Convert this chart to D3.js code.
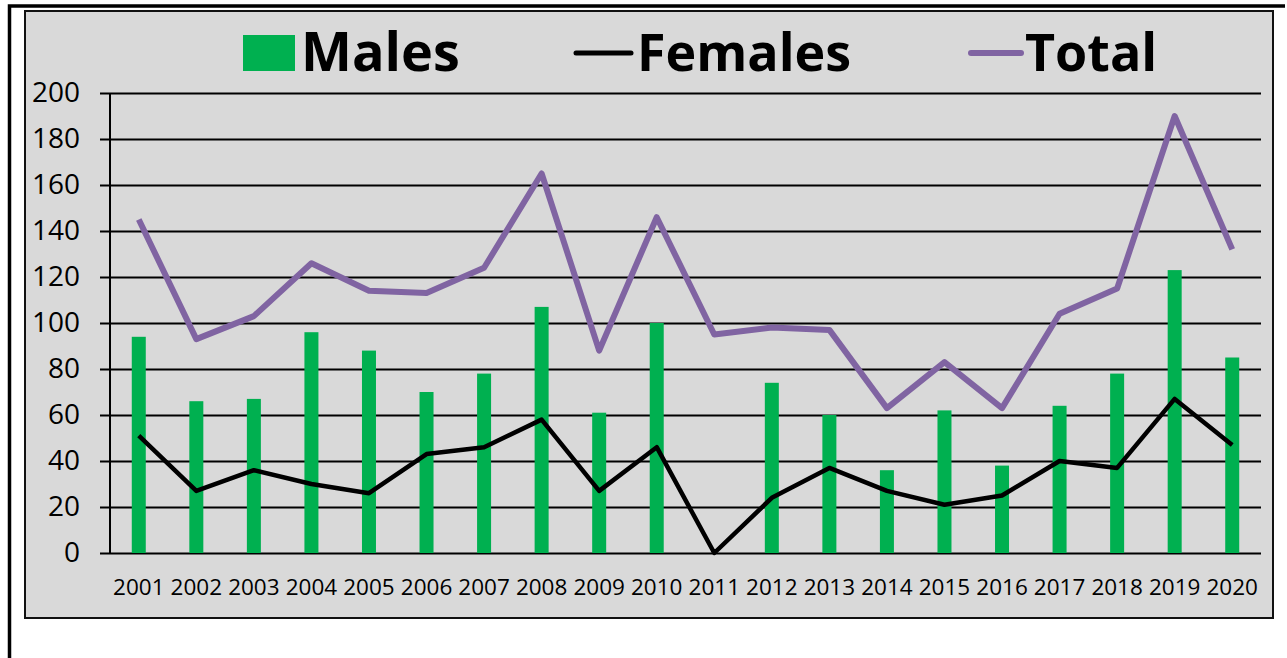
<!DOCTYPE html>
<html lang='en'>
  <head>
    <meta charset='utf-8'>
    <script src='https://cdnjs.cloudflare.com/ajax/libs/d3/7.8.5/d3.min.js'></script>
    <style>
      body { margin: 0; background: #fff; }
      svg { display: block; font-family: 'Open Sans', sans-serif; }
    </style>
  </head>
  <body>
    <div id='chart'></div>
    <script type='text/javascript'>

      // data
      var years = ['2001', '2002', '2003', '2004', '2005', '2006', '2007', '2008', '2009', '2010',
                   '2011', '2012', '2013', '2014', '2015', '2016', '2017', '2018', '2019', '2020'];
      var males = [94, 66, 67, 96, 88, 70, 78, 107, 61, 100, 0, 74, 60, 36, 62, 38, 64, 78, 123, 85];
      var females = [51, 27, 36, 30, 26, 43, 46, 58, 27, 46, 0, 24, 37, 27, 21, 25, 40, 37, 67, 47];
      var total = [145, 93, 103, 126, 114, 113, 124, 165, 88, 146, 95, 98, 97, 63, 83, 63, 104, 115, 190, 132];
      var yTicks = [0, 20, 40, 60, 80, 100, 120, 140, 160, 180, 200];

      var svgWidth = 1287;
      var svgHeight = 658;

      var plotLeft = 110;
      var plotRight = 1261;
      var plotTop = 93;
      var plotBottom = 553;

      var green = '#00b050';
      var purple = '#8064a2';

      var svg = d3.select('#chart').append('svg')
                  .attr('width', svgWidth)
                  .attr('height', svgHeight);

      // outer frame (top and left edge)
      svg.append('path')
         .attr('d', 'M9.5,' + svgHeight + ' V6 H1285')
         .attr('fill', 'none')
         .attr('stroke', '#000')
         .attr('stroke-width', 3.5);

      // chart area
      svg.append('rect')
         .attr('x', 25)
         .attr('y', 11)
         .attr('width', 1248)
         .attr('height', 607)
         .attr('fill', '#d9d9d9')
         .attr('stroke', '#111')
         .attr('stroke-width', 2);

      // scales
      var xScale = d3.scaleBand()
                     .domain(years)
                     .range([plotLeft, plotRight])
                     .padding(0);

      var yScale = d3.scaleLinear()
                     .domain([0, 200])
                     .range([plotBottom, plotTop]);

      // gridlines + y axis
      var yAxis = d3.axisLeft(yScale)
                    .tickValues(yTicks)
                    .tickSize(-(plotRight - plotLeft))
                    .tickPadding(30)
                    .tickFormat(d3.format('d'));

      var yG = svg.append('g')
                  .attr('transform', 'translate(' + plotLeft + ',0)')
                  .call(yAxis);
      yG.select('.domain').remove();
      yG.selectAll('.tick line')
        .attr('x1', -10)
        .attr('stroke', '#000')
        .attr('stroke-width', 2);
      yG.selectAll('.tick text')
        .attr('fill', '#000')
        .style('font-size', '28px')
        .style('font-family', "'Open Sans', sans-serif");

      // vertical axis line
      svg.append('line')
         .attr('x1', plotLeft).attr('x2', plotLeft)
         .attr('y1', plotTop).attr('y2', plotBottom)
         .attr('stroke', '#000')
         .attr('stroke-width', 2);

      // x axis labels
      var xAxis = d3.axisBottom(xScale)
                    .tickSize(0)
                    .tickPadding(26);
      var xG = svg.append('g')
                  .attr('transform', 'translate(0,' + plotBottom + ')')
                  .call(xAxis);
      xG.select('.domain').remove();
      xG.selectAll('.tick text')
        .attr('fill', '#000')
        .style('font-size', '22.5px')
        .style('font-family', "'Open Sans', sans-serif");

      // bars
      var barWidth = 14;
      svg.selectAll('rect.bar')
         .data(males)
         .enter().append('rect')
         .attr('class', 'bar')
         .attr('x', function(d, i) { return xScale(years[i]) + xScale.bandwidth() / 2 - barWidth / 2; })
         .attr('y', function(d) { return yScale(d); })
         .attr('width', barWidth)
         .attr('height', function(d) { return plotBottom - yScale(d); })
         .attr('fill', green);

      // lines
      var line = d3.line()
                   .x(function(d, i) { return xScale(years[i]) + xScale.bandwidth() / 2; })
                   .y(function(d) { return yScale(d); });

      svg.append('path')
         .datum(total)
         .attr('d', line)
         .attr('fill', 'none')
         .attr('stroke', purple)
         .attr('stroke-width', 6)
         .attr('stroke-linejoin', 'round');

      svg.append('path')
         .datum(females)
         .attr('d', line)
         .attr('fill', 'none')
         .attr('stroke', '#000')
         .attr('stroke-width', 4.5)
         .attr('stroke-linejoin', 'round');

      // legend
      var legend = svg.append('g').attr('class', 'legend');
      var legendFont = { size: '52px', weight: 700 };

      legend.append('rect')
            .attr('x', 243).attr('y', 35)
            .attr('width', 52).attr('height', 36)
            .attr('fill', green);
      legend.append('text')
            .text('Males')
            .attr('x', 301).attr('y', 71)
            .style('font-size', '54px')
            .style('font-weight', legendFont.weight);

      legend.append('line')
            .attr('x1', 576).attr('x2', 631)
            .attr('y1', 53).attr('y2', 53)
            .attr('stroke', '#000')
            .attr('stroke-width', 5)
            .attr('stroke-linecap', 'round');
      legend.append('text')
            .text('Females')
            .attr('x', 637).attr('y', 71)
            .style('font-size', legendFont.size)
            .style('font-weight', legendFont.weight);

      legend.append('line')
            .attr('x1', 971).attr('x2', 1021)
            .attr('y1', 53).attr('y2', 53)
            .attr('stroke', purple)
            .attr('stroke-width', 6)
            .attr('stroke-linecap', 'round');
      legend.append('text')
            .text('Total')
            .attr('x', 1025).attr('y', 71)
            .style('font-size', legendFont.size)
            .style('font-weight', legendFont.weight);

    </script>
  </body>
</html>
